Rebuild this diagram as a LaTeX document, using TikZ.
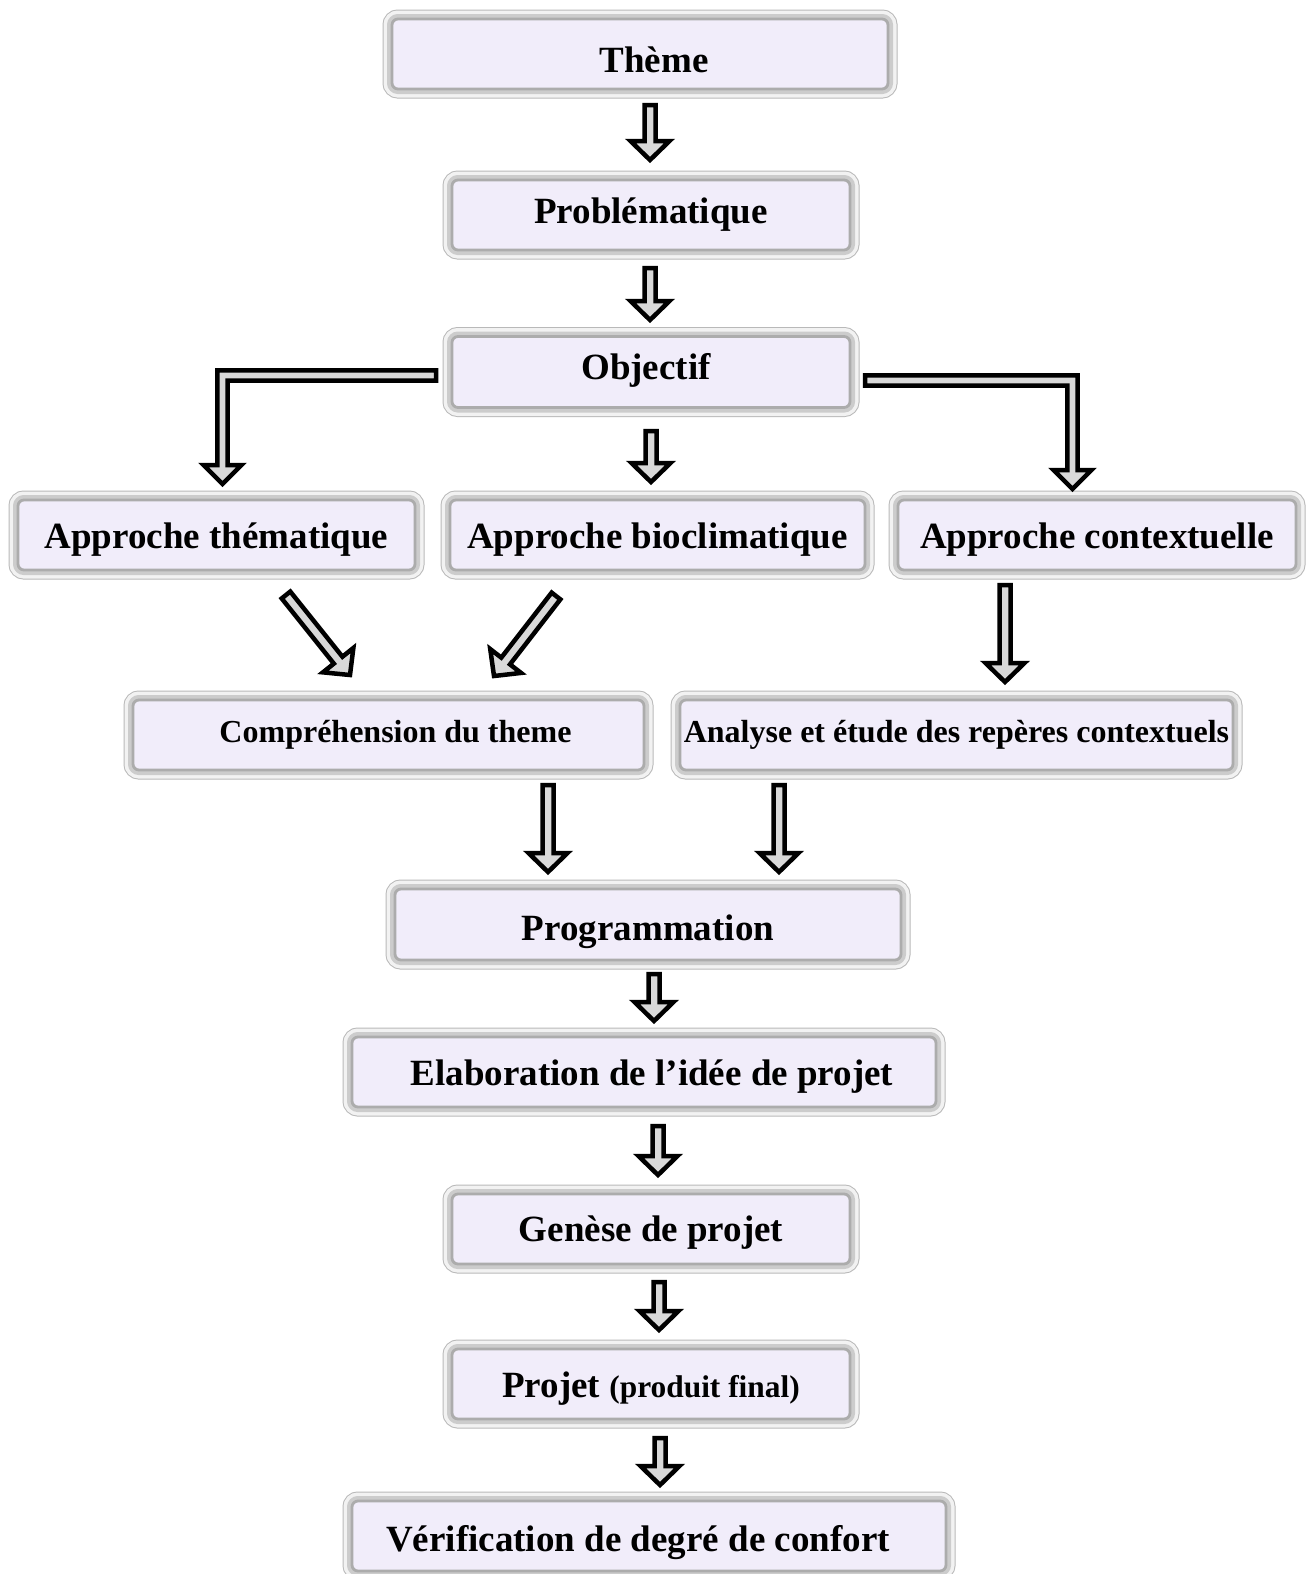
\documentclass[tikz,border=0pt]{standalone}
\usepackage{fontspec}
\setmainfont{Liberation Serif}
\usetikzlibrary{calc}
\definecolor{lav}{RGB}{241,237,250}
\definecolor{arrfill}{RGB}{217,217,217}
\tikzset{
  box/.style={rounded corners=3pt, fill=lav, draw=gray!65, line width=1.4pt, inner sep=0pt,
    font=\fontsize{18.5}{22}\selectfont\bfseries,
    preaction={draw=gray!55, line width=9.5pt},
    preaction={draw=gray!10, line width=8.5pt},
    preaction={draw=gray!40, line width=5pt}},
  smallbox/.style={box, font=\fontsize{16}{19}\selectfont\bfseries},
  bl/.style={text height=#1, text depth=0pt},
  blk/.style={fill=arrfill, draw=black, line width=2.25pt, line join=miter, miter limit=10},
}
% straight block arrow from #1 to tip #2
\newcommand\blkarrow[2]{%
  \coordinate (ba-h) at ($(#2)!9.5pt!(#1)$);
  \filldraw[blk] ($(#1)!2.75pt!90:(#2)$) -- ($(ba-h)!2.75pt!-90:(#1)$) -- ($(ba-h)!9.75pt!-90:(#1)$)
    -- (#2) -- ($(ba-h)!9.75pt!90:(#1)$) -- ($(ba-h)!2.75pt!90:(#1)$) -- ($(#1)!2.75pt!-90:(#2)$) -- cycle;}
% elbow block arrow: #1 start, #2 corner, #3 tip (downward), #4 sign of horizontal direction
\newcommand\elbowarrow[4]{%
  \filldraw[blk] let \p1=(#1), \p2=(#2), \p3=(#3) in
    (\x1,{\y2+2.6pt}) -- ({\x2+#4*2.6pt},{\y2+2.6pt}) -- ({\x2+#4*2.6pt},{\y3+9.5pt})
    -- ({\x2+#4*9.5pt},{\y3+9.5pt}) -- (\x2,\y3) -- ({\x2-#4*9.5pt},{\y3+9.5pt})
    -- ({\x2-#4*2.6pt},{\y3+9.5pt}) -- ({\x2-#4*2.6pt},{\y2-2.6pt}) -- (\x1,{\y2-2.6pt}) -- cycle;}
\begin{document}
\begin{tikzpicture}[x=0.5pt,y=-0.5pt]
\useasboundingbox (0,0) rectangle (1306,1574);
\fill[white] (0,0) rectangle (1306,1574);

% boxes
\node[box, bl=18pt, minimum width=248pt, minimum height=35pt] (theme) at (640,54) {\hspace*{14pt}Thème};
\node[box, bl=8pt, minimum width=199pt, minimum height=35pt] (prob) at (651,215) {Problématique};
\node[box, bl=7pt, minimum width=199pt, minimum height=35.5pt] (obj) at (651,372) {Objectif\hspace*{5pt}};
\node[box, bl=13pt, minimum width=198.5pt, minimum height=35pt] (athem) at (216.5,535) {Approche thématique};
\node[box, bl=13pt, minimum width=207.5pt, minimum height=35pt] (abio) at (657.5,535) {Approche bioclimatique};
\node[box, bl=13pt, minimum width=199pt, minimum height=35pt] (actx) at (1097,535) {Approche contextuelle};
\node[smallbox, minimum width=255.5pt, minimum height=35pt] (compr) at (388.5,735) {\hspace*{7pt}Compréhension du theme};
\node[smallbox, minimum width=276.5pt, minimum height=35pt] (anal) at (956.5,735) {Analyse et étude des repères contextuels};
\node[box, bl=15.5pt, minimum width=253pt, minimum height=35.5pt] (prog) at (648,924.5) {Programmation};
\node[box, bl=13pt, minimum width=292pt, minimum height=35pt] (elab) at (644,1072) {\hspace*{8pt}Elaboration de l’idée de projet};
\node[box, bl=12pt, minimum width=199pt, minimum height=35pt] (gen) at (651,1229) {Genèse de projet};
\node[box, bl=13pt, minimum width=199pt, minimum height=35pt] (proj) at (651,1384) {Projet {\fontsize{15.7}{19}\selectfont (produit final)}};
\node[box, bl=15pt, minimum width=297pt, minimum height=35pt] (verif) at (649,1536) {Vérification de degré de confort\hspace*{11pt}};

% arrow end points
\coordinate (a1s) at (650,105);  \coordinate (a1e) at (650,160);
\coordinate (a2s) at (650,268);  \coordinate (a2e) at (650,320);
\coordinate (a3s) at (651,431);  \coordinate (a3e) at (651,482);
\coordinate (a4s) at (1005,585); \coordinate (a4e) at (1005,682);
\coordinate (a5s) at (548,785);  \coordinate (a5e) at (548,872);
\coordinate (a6s) at (779,785);  \coordinate (a6e) at (779,872);
\coordinate (a7s) at (654,974);  \coordinate (a7e) at (654,1021);
\coordinate (a8s) at (658,1126); \coordinate (a8e) at (658,1175);
\coordinate (a9s) at (659,1282); \coordinate (a9e) at (659,1330);
\coordinate (a10s) at (660,1438); \coordinate (a10e) at (660,1485);
\coordinate (d1s) at (286,595);  \coordinate (d1e) at (350,675);
\coordinate (d2s) at (556,596);  \coordinate (d2e) at (494,676);
\coordinate (l1s) at (436,375.5); \coordinate (l1c) at (222.5,375.5); \coordinate (l1e) at (222.5,484);
\coordinate (r1s) at (865,380.5); \coordinate (r1c) at (1072.5,380.5); \coordinate (r1e) at (1072.5,489);

\blkarrow{a1s}{a1e}
\blkarrow{a2s}{a2e}
\blkarrow{a3s}{a3e}
\blkarrow{a4s}{a4e}
\blkarrow{a5s}{a5e}
\blkarrow{a6s}{a6e}
\blkarrow{a7s}{a7e}
\blkarrow{a8s}{a8e}
\blkarrow{a9s}{a9e}
\blkarrow{a10s}{a10e}
\blkarrow{d1s}{d1e}
\blkarrow{d2s}{d2e}
\elbowarrow{l1s}{l1c}{l1e}{-1}
\elbowarrow{r1s}{r1c}{r1e}{1}
\end{tikzpicture}
\end{document}
